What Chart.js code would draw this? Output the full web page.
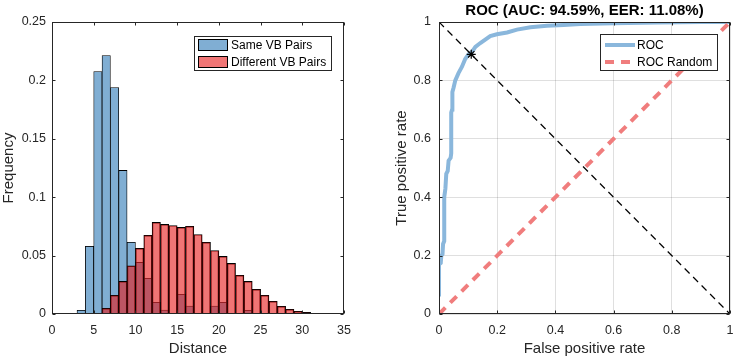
<!DOCTYPE html>
<html>
<head>
<meta charset="utf-8">
<script src="https://cdn.jsdelivr.net/npm/chart.js@4.4.0/dist/chart.umd.min.js"></script>
<style>
  html, body { margin: 0; padding: 0; background: #fff; overflow: hidden; }
  #wrap { position: relative; width: 746px; height: 360px; }
  .pane { position: absolute; top: 0; width: 373px; height: 360px; }
</style>
</head>
<body>
<div id="wrap">
  <div class="pane" style="left:0"><canvas id="histChart" width="373" height="360"></canvas></div>
  <div class="pane" style="left:373px"><canvas id="rocChart" width="373" height="360"></canvas></div>
</div>
<script>
// Histogram data (bin centres, bin width 1)
const binCenters = [3.5, 4.5, 5.5, 6.5, 7.5, 8.5, 9.5, 10.5, 11.5, 12.5, 13.5, 14.5, 15.5, 16.5, 17.5,
                    18.5, 19.5, 20.5, 21.5, 22.5, 23.5, 24.5, 25.5, 26.5, 27.5, 28.5, 29.5, 30.5, 31.5];
const sameVB = [0.0031, 0.0579, 0.2075, 0.2212, 0.1938, 0.1229, 0.0613, 0.0442, 0.0305, 0.0100,
                0.0034, 0, 0.0168, 0.0068, 0, 0, 0.0068, 0.0100, 0, 0,
                0.0031, 0, 0, 0, 0, 0, 0, 0, 0];
const diffVB = [0, 0, 0.0006, 0.0048, 0.0160, 0.0279, 0.0413, 0.0562, 0.0673, 0.0784,
                0.0767, 0.0758, 0.0741, 0.0750, 0.0681, 0.0613, 0.0544, 0.0493, 0.0433, 0.0331,
                0.0279, 0.0211, 0.0160, 0.0108, 0.0066, 0.0040, 0.0023, 0.0014, 0.0006];

// ROC data
const rocFpr = [0, 0, 0.006, 0.008, 0.012, 0.014, 0.018, 0.018, 0.022, 0.025, 0.030, 0.033, 0.040,
                0.042, 0.042, 0.045, 0.046, 0.050, 0.056, 0.067, 0.079, 0.090, 0.102, 0.111, 0.125,
                0.142, 0.159, 0.176, 0.199, 0.234, 0.268, 0.314, 0.371, 0.428, 0.486, 0.600, 0.750,
                0.900, 1.000];
const rocTpr = [0.060, 0.170, 0.175, 0.200, 0.205, 0.240, 0.250, 0.400, 0.430, 0.480, 0.490, 0.525, 0.535,
                0.550, 0.690, 0.700, 0.760, 0.775, 0.800, 0.825, 0.847, 0.873, 0.890, 0.894, 0.915,
                0.928, 0.940, 0.952, 0.958, 0.964, 0.974, 0.982, 0.987, 0.990, 0.993, 0.996, 0.998,
                1.000, 1.000];
const randomLine = [[0, 0], [1, 1]];
const eerLine = [[0, 1], [1, 0]];
const eerPoint = [0.1108, 0.8892];
const rocTitle = 'ROC (AUC: 94.59%, EER: 11.08%)';

const FONT = '"Liberation Sans", Arial, Helvetica, sans-serif';
const TXT = '#262626';

function fmtTick(v) {
    return String(parseFloat(Number(v).toFixed(4)));
}

// MATLAB-style box with inward tick marks
const axesBox = {
    id: 'axesBox',
    afterDatasetsDraw(chart) {
        const { ctx, chartArea: a, scales } = chart;
        const L = Math.round(a.left) + 0.5, R = Math.round(a.right) - 0.5;
        const T = Math.round(a.top) + 0.5, B = Math.round(a.bottom) - 0.5;
        ctx.save();
        ctx.strokeStyle = TXT;
        ctx.lineWidth = 1;
        ctx.beginPath();
        scales.x.ticks.forEach(t => {
            const px = Math.round(scales.x.getPixelForValue(t.value)) + 0.5;
            ctx.moveTo(px, B); ctx.lineTo(px, B - 3);
            ctx.moveTo(px, T); ctx.lineTo(px, T + 3);
        });
        scales.y.ticks.forEach(t => {
            const py = Math.round(scales.y.getPixelForValue(t.value)) + 0.5;
            ctx.moveTo(L, py); ctx.lineTo(L + 3, py);
            ctx.moveTo(R, py); ctx.lineTo(R - 3, py);
        });
        ctx.stroke();
        ctx.strokeRect(L, T, R - L, B - T);
        ctx.restore();
    }
};

// Legend drawn inside the axes, top-right
const boxLegend = {
    id: 'boxLegend',
    afterDraw(chart, args, opts) {
        if (!opts.items) return;
        const { ctx, chartArea: a } = chart;
        ctx.save();
        ctx.font = '12px ' + FONT;
        const labels = opts.items.map(it => chart.data.datasets[it.dataset].label);
        const textW = Math.max(...labels.map(s => ctx.measureText(s).width));
        const w = Math.round(37 + textW + 5);
        const h = opts.height;
        const x = Math.round(a.right - opts.right - w);
        const y = Math.round(a.top + opts.top);
        ctx.fillStyle = '#fff';
        ctx.fillRect(x, y, w, h);
        ctx.strokeStyle = TXT;
        ctx.lineWidth = 1;
        ctx.strokeRect(x + 0.5, y + 0.5, w, h);
        opts.items.forEach((it, i) => {
            const ds = chart.data.datasets[it.dataset];
            const cy = y + opts.firstRow + i * 17;
            if (it.kind === 'patch') {
                ctx.fillStyle = '#fff';
                ctx.fillRect(x + 4, cy - 6, 30, 12);
                ctx.fillStyle = ds.backgroundColor;
                ctx.fillRect(x + 4, cy - 6, 30, 12);
                ctx.strokeStyle = '#000';
                ctx.strokeRect(x + 4.5, cy - 5.5, 29, 11);
            } else {
                ctx.strokeStyle = ds.borderColor;
                ctx.lineWidth = ds.borderWidth;
                ctx.setLineDash(ds.borderDash || []);
                ctx.beginPath();
                ctx.moveTo(x + 5, cy);
                ctx.lineTo(x + 35, cy);
                ctx.stroke();
                ctx.setLineDash([]);
                ctx.lineWidth = 1;
            }
            ctx.fillStyle = '#000';
            ctx.textBaseline = 'middle';
            ctx.textAlign = 'left';
            ctx.fillText(labels[i], x + 37, cy + 0.5);
        });
        ctx.restore();
    }
};

Chart.register(axesBox, boxLegend);
Chart.defaults.font.family = FONT;
Chart.defaults.color = TXT;

// Left: histogram
new Chart(document.getElementById('histChart'), {
    type: 'bar',
    data: {
        datasets: [{
            label: 'Same VB Pairs',
            data: binCenters.map((x, i) => ({ x: x, y: sameVB[i] })),
            backgroundColor: 'rgb(128,174,211)',
            borderColor: '#000',
            borderWidth: 0.8,
            order: 2
        }, {
            label: 'Different VB Pairs',
            data: binCenters.map((x, i) => ({ x: x, y: diffVB[i] })),
            backgroundColor: 'rgba(230,25,25,0.6)',
            borderColor: '#000',
            borderWidth: 0.8,
            order: 1
        }]
    },
    options: {
        responsive: false,
        animation: false,
        grouped: false,
        barPercentage: 1,
        categoryPercentage: 1,
        layout: { padding: { top: 22, right: 29, left: 0, bottom: 0 } },
        scales: {
            x: {
                type: 'linear', min: 0, max: 35, offset: false,
                grid: { display: false, drawTicks: false, offset: false },
                border: { display: false },
                ticks: { stepSize: 5, padding: 9, font: { size: 12.5 }, maxRotation: 0 },
                title: { display: true, text: 'Distance', font: { size: 15 }, padding: { top: 0, bottom: 2 } },
                afterFit: s => { s.height = 46; }
            },
            y: {
                min: 0, max: 0.25,
                grid: { display: false, drawTicks: false },
                border: { display: false },
                ticks: { stepSize: 0.05, padding: 6, font: { size: 12.5 }, callback: fmtTick },
                title: { display: true, text: 'Frequency', font: { size: 15 }, padding: { top: 0, bottom: 0 } },
                afterFit: s => { s.width = 52; }
            }
        },
        plugins: {
            legend: { display: false },
            tooltip: { enabled: false },
            boxLegend: {
                items: [{ dataset: 0, kind: 'patch' }, { dataset: 1, kind: 'patch' }],
                right: 13, top: 14, height: 34, firstRow: 9
            }
        }
    }
});

// Right: ROC curve
new Chart(document.getElementById('rocChart'), {
    type: 'scatter',
    data: {
        datasets: [{
            label: 'ROC',
            data: rocFpr.map((x, i) => ({ x: x, y: rocTpr[i] })),
            showLine: true,
            borderColor: 'rgb(138,183,220)',
            borderWidth: 4,
            pointRadius: 0,
            clip: 0,
            order: 4
        }, {
            label: 'ROC Random',
            data: randomLine.map(p => ({ x: p[0], y: p[1] })),
            showLine: true,
            borderColor: 'rgb(240,125,125)',
            borderWidth: 4,
            borderDash: [9, 7],
            pointRadius: 0,
            clip: 0,
            order: 3
        }, {
            label: 'EER line',
            data: eerLine.map(p => ({ x: p[0], y: p[1] })),
            showLine: true,
            borderColor: '#000',
            borderWidth: 1.2,
            borderDash: [7, 5],
            pointRadius: 0,
            clip: 0,
            order: 2
        }, {
            label: 'EER',
            data: [{ x: eerPoint[0], y: eerPoint[1] }],
            pointStyle: 'star',
            pointRadius: 4.5,
            borderColor: '#000',
            backgroundColor: '#000',
            borderWidth: 1.2,
            order: 1
        }]
    },
    options: {
        responsive: false,
        animation: false,
        layout: { padding: { top: 0, right: 16, left: 0, bottom: 0 } },
        scales: {
            x: {
                type: 'linear', min: 0, max: 1,
                grid: { color: 'rgba(38,38,38,0.15)', drawTicks: false },
                border: { display: false },
                ticks: { stepSize: 0.2, padding: 9, font: { size: 12.5 }, maxRotation: 0, callback: fmtTick },
                title: { display: true, text: 'False positive rate', font: { size: 15 }, padding: { top: 0, bottom: 2 } },
                afterFit: s => { s.height = 46; }
            },
            x2: {
                type: 'linear', position: 'top', min: 0, max: 1,
                grid: { display: false, drawTicks: false },
                border: { display: false },
                ticks: { display: false },
                title: { display: true, text: rocTitle, color: '#000', font: { size: 15, weight: 'bold' }, padding: { top: 2, bottom: 0 } },
                afterFit: s => { s.height = 22; }
            },
            y: {
                type: 'linear', min: 0, max: 1,
                grid: { color: 'rgba(38,38,38,0.15)', drawTicks: false },
                border: { display: false },
                ticks: { stepSize: 0.2, padding: 8, font: { size: 12.5 }, callback: fmtTick },
                title: { display: true, text: 'True positive rate', font: { size: 15 }, padding: { top: 20, bottom: 0 } },
                afterFit: s => { s.width = 66; }
            }
        },
        plugins: {
            legend: { display: false },
            tooltip: { enabled: false },
            boxLegend: {
                items: [{ dataset: 0, kind: 'line' }, { dataset: 1, kind: 'line' }],
                right: 13, top: 12, height: 36, firstRow: 11
            }
        }
    }
});
</script>
</body>
</html>
